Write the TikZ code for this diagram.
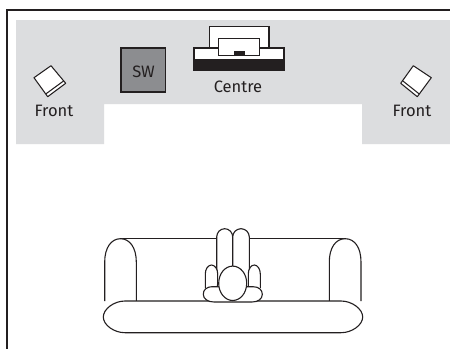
\documentclass[tikz,border=0pt]{standalone}
\usepackage{fontspec}
\setmainfont{Fira Sans}
\definecolor{room}{RGB}{220,221,223}
\definecolor{ink}{RGB}{35,31,32}
\definecolor{swgrey}{RGB}{140,141,144}
\tikzset{
  lbl/.style={text=ink,font=\fontsize{16.5}{18}\selectfont,inner sep=0pt,anchor=base},
  ln/.style={draw=ink,line width=1.05pt,line join=miter},
  sofa/.style={draw=ink,line width=1.1pt,fill=white},
}
\begin{document}
\begin{tikzpicture}[x=1pt,y=-1pt]
\useasboundingbox (0,0) rectangle (450,349);
\fill[white] (0,0) rectangle (450,349);
% room
\fill[room] (16,20) -- (450,20) -- (450,144) -- (362,144) -- (362,104) -- (104,104) -- (104,144) -- (16,144) -- cycle;
\draw[draw=ink,line width=1.1pt] (450,10) -- (7,10) -- (7,349);
% subwoofer
\draw[ln,fill=swgrey] (121,48) rectangle (165.5,92);
\node[lbl] (sw) at (143.5,77) {SW};
% centre speaker
\draw[ln,fill=white] (209.5,48) -- (209.5,26.7) -- (269,26.7) -- (269,48);
\draw[ln,fill=white] (194,48) rectangle (284,70);
\fill[ink] (194,59) rectangle (284,70.4);
\draw[ln,fill=white] (218.7,38.7) rectangle (259.7,55.3);
\fill[ink] (233.7,50.7) rectangle (244.7,55.3);
\node[lbl] (centre) at (238,92) {Centre};
% front speakers
\draw[ln,fill=white,line join=round] (51,65.7) -- (34,77.7) -- (47.7,96.7) -- (65.7,83.3) -- cycle;
\draw[ln] (46,93.8) -- (63.8,80.8);
\node[lbl] (fl) at (54,116) {Front};
\draw[ln,fill=white,line join=round] (413.3,65.7) -- (431.3,77.7) -- (417.3,96.7) -- (400.7,83.3) -- cycle;
\draw[ln] (402.7,80.8) -- (419,93.8);
\node[lbl] (fr) at (412,116) {Front};
% sofa back and arms
\draw[sofa] (120,238.7) -- (345,238.7);
\draw[sofa] (104.7,301) -- (104.7,262) .. controls (104.7,248) and (111,238.7) .. (120.5,238.7) .. controls (130,238.7) and (136.3,248) .. (136.3,262) -- (136.3,301);
\draw[sofa] (329.3,301) -- (329.3,262) .. controls (329.3,248) and (335.5,238.7) .. (345.2,238.7) .. controls (355,238.7) and (361,248) .. (361,262) -- (361,301);
\draw[sofa] (125,301) -- (341,301) .. controls (352,301) and (362.7,309) .. (362.7,317) .. controls (362.7,325) and (352,332.7) .. (341,332.7) -- (125,332.7) .. controls (114,332.7) and (103.3,325) .. (103.3,317) .. controls (103.3,309) and (114,301) .. (125,301) -- cycle;
% person
\draw[sofa] (216.7,275) -- (216.7,237) arc[start angle=180,end angle=360,x radius=8,y radius=8.3] -- (232.7,275);
\draw[sofa] (232.7,275) -- (232.7,237) arc[start angle=180,end angle=360,x radius=8.3,y radius=8.3] -- (249.3,275);
\draw[sofa] (205.3,288) -- (205.3,274) arc[start angle=180,end angle=360,x radius=6.2,y radius=9] -- (217.5,288);
\draw[sofa] (248.3,288) -- (248.3,274) arc[start angle=180,end angle=360,x radius=6,y radius=9] -- (260.3,288);
\draw[sofa] (213,286.7) .. controls (206,286.7) and (203.3,290) .. (203.3,294.3) .. controls (203.3,299) and (208,302) .. (214,302) -- (252,302) .. controls (258,302) and (262.3,299) .. (262.3,294.3) .. controls (262.3,290) and (259,286.7) .. (253,286.7) -- cycle;
\draw[sofa] (232.7,283.3) ellipse[x radius=14,y radius=17.2];
\end{tikzpicture}
\end{document}
